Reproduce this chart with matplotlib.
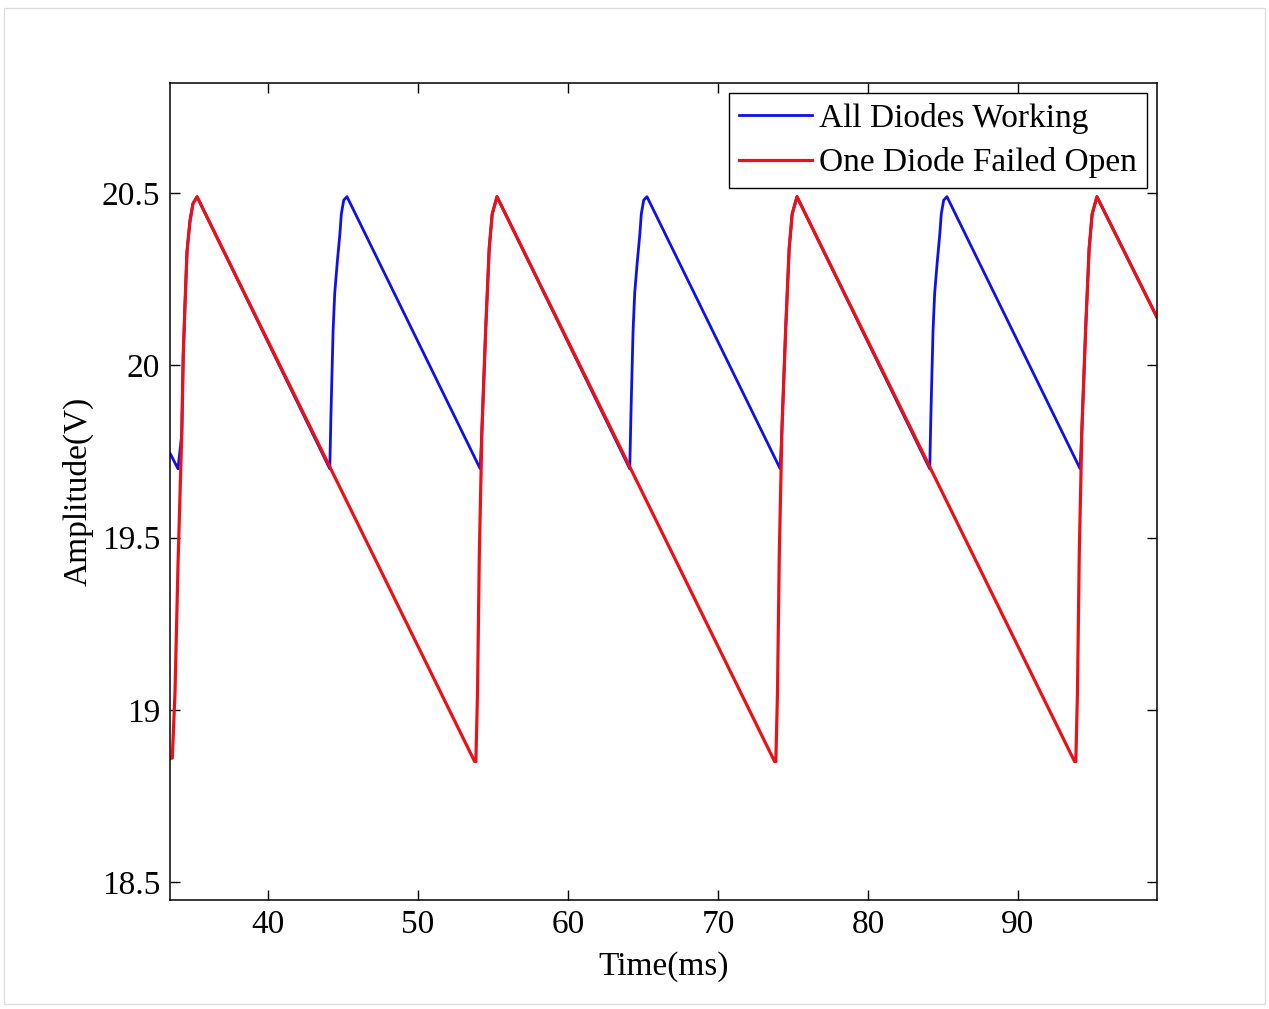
import matplotlib.pyplot as plt
from matplotlib.patches import Rectangle

blue_t = [33.47, 34.0, 34.25, 34.35, 34.47, 34.6, 34.8, 35.0, 35.27,
          44.12, 44.2, 44.34, 44.45, 44.62, 44.79, 44.89, 45.05, 45.27,
          54.15, 54.27, 54.52, 54.75, 54.95, 55.27,
          64.12, 64.2, 64.34, 64.45, 64.62, 64.79, 64.89, 65.05, 65.27,
          74.15, 74.27, 74.52, 74.75, 74.95, 75.27,
          84.12, 84.2, 84.34, 84.45, 84.62, 84.79, 84.89, 85.05, 85.27,
          94.15, 94.27, 94.52, 94.75, 94.95, 95.27,
          99.27]
blue_v = [19.745, 19.70, 19.80, 20.03, 20.18, 20.33, 20.42, 20.47, 20.49,
          19.70, 19.86, 20.10, 20.21, 20.30, 20.38, 20.44, 20.48, 20.49,
          19.70, 19.82, 20.11, 20.34, 20.44, 20.49,
          19.70, 19.86, 20.10, 20.21, 20.30, 20.38, 20.44, 20.48, 20.49,
          19.70, 19.82, 20.11, 20.34, 20.44, 20.49,
          19.70, 19.86, 20.10, 20.21, 20.30, 20.38, 20.44, 20.48, 20.49,
          19.70, 19.82, 20.11, 20.34, 20.44, 20.49,
          20.14]

red_t = [33.5, 33.62, 33.8, 34.0, 34.25, 34.35, 34.47, 34.6, 34.8, 35.0, 35.27,
         53.78, 53.86, 53.97, 54.09, 54.27, 54.52, 54.75, 54.95, 55.27,
         73.78, 73.86, 73.97, 74.09, 74.27, 74.52, 74.75, 74.95, 75.27,
         93.78, 93.86, 93.97, 94.09, 94.27, 94.52, 94.75, 94.95, 95.27,
         99.27]
red_v = [18.86, 18.86, 19.05, 19.42, 19.80, 20.03, 20.18, 20.33, 20.42, 20.47, 20.49,
         18.85, 18.85, 19.05, 19.45, 19.82, 20.11, 20.34, 20.44, 20.49,
         18.85, 18.85, 19.05, 19.45, 19.82, 20.11, 20.34, 20.44, 20.49,
         18.85, 18.85, 19.05, 19.45, 19.82, 20.11, 20.34, 20.44, 20.49,
         20.14]

labels = ['All Diodes Working', 'One Diode Failed Open']
xticks = [40, 50, 60, 70, 80, 90]
yticks = [18.5, 19, 19.5, 20, 20.5]

plt.rcParams['font.family'] = ['Liberation Serif', 'DejaVu Serif']
fs = 24

fig = plt.figure(figsize=(12.69, 10.09), dpi=100)
ax = fig.add_axes([0.134, 0.108, 0.7777, 0.8097])

ax.plot(blue_t, blue_v, color='#1010e8', lw=2.0, label=labels[0])
ax.plot(red_t, red_v, color='#ea1218', lw=2.3, label=labels[1])

ax.set_xlim(33.47, 99.27)
ax.set_ylim(18.448, 20.82)
ax.set_xticks(xticks)
ax.set_yticks(yticks)
ax.set_yticklabels(['18.5', '19', '19.5', '20', '20.5'])
ax.tick_params(direction='in', length=7, width=1, top=True, right=True,
               labelsize=fs, pad=7)
for s in ax.spines.values():
    s.set_linewidth(1.1)

ax.set_xlabel('Time(ms)', fontsize=fs, labelpad=8)
ax.set_ylabel('Amplitude(V)', fontsize=fs, labelpad=6)

leg = ax.legend(loc='upper right', fontsize=fs, fancybox=False, framealpha=1,
                edgecolor='black', handlelength=2.2, handletextpad=0.2,
                borderaxespad=0.3, labelspacing=0.4, borderpad=0.3)
leg.get_frame().set_linewidth(1.0)

# faint outer border of the original screenshot
fig.add_artist(Rectangle((0.003, 0.005), 0.994, 0.987, transform=fig.transFigure,
                         fill=False, edgecolor='#dddddd', lw=1))

fig.savefig('out.png', dpi=100)
